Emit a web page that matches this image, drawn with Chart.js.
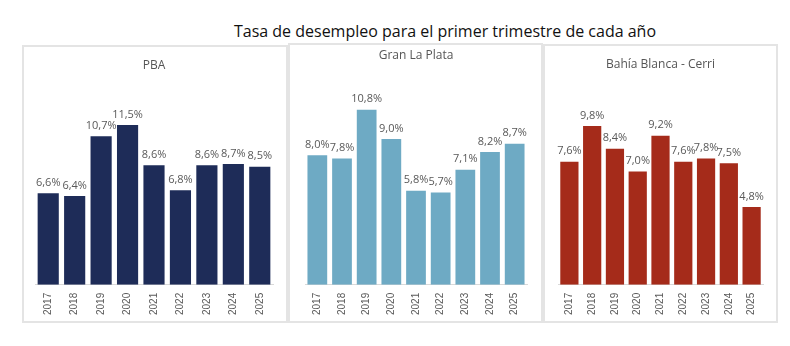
<!DOCTYPE html>
<html>
<head>
<meta charset="utf-8">
<script src="https://cdn.jsdelivr.net/npm/chart.js@4"></script>
<style>
  body { margin: 0; background: #fff; width: 790px; height: 346px; position: relative; overflow: hidden; }
  #titulo {
    position: absolute; left: 230px; top: 20px; width: 430px; text-align: center;
    font-family: "Open Sans", sans-serif; font-size: 16px; color: #111; white-space: nowrap;
  }
  .panel { position: absolute; box-sizing: border-box; border: 2px solid #e4e4e4; background: #fff; }
  .panel canvas { position: absolute; left: 0; top: 0; }
</style>
</head>
<body>
<div id="titulo">Tasa de desempleo para el primer trimestre de cada año</div>
<div class="panel" style="left:22px;top:45px;width:266px;height:278px"><canvas id="js--pba" width="262" height="276"></canvas></div>
<div class="panel" style="left:288px;top:43px;width:255px;height:280px"><canvas id="js--glp" width="251" height="278"></canvas></div>
<div class="panel" style="left:543px;top:44px;width:235px;height:279px"><canvas id="js--bb" width="231" height="277"></canvas></div>
<script>
const years = ["2017", "2018", "2019", "2020", "2021", "2022", "2023", "2024", "2025"];
const pba = [6.6, 6.4, 10.7, 11.5, 8.6, 6.8, 8.6, 8.7, 8.5];
const granLaPlata = [8.0, 7.8, 10.8, 9.0, 5.8, 5.7, 7.1, 8.2, 8.7];
const bahiaBlanca = [7.6, 9.8, 8.4, 7.0, 9.2, 7.6, 7.8, 7.5, 4.8];

// etiquetas de valor arriba de cada barra, con coma decimal
const valueLabels = {
  id: "valueLabels",
  afterDatasetsDraw(chart) {
    const ctx = chart.ctx;
    const values = chart.data.datasets[0].data;
    ctx.save();
    ctx.font = "11px 'Open Sans', sans-serif";
    ctx.fillStyle = "#595959";
    ctx.textAlign = "center";
    ctx.textBaseline = "bottom";
    chart.getDatasetMeta(0).data.forEach(function (bar, i) {
      ctx.fillText(values[i].toFixed(1).replace(".", ",") + "%", bar.x, bar.y - 5);
    });
    ctx.restore();
  }
};

function makeChart(id, title, values, color, yMax, titlePad, pad) {
  return new Chart(document.getElementById(id), {
    type: "bar",
    data: {
      labels: years,
      datasets: [{
        data: values,
        backgroundColor: color,
        barPercentage: 0.8,
        categoryPercentage: 1.0
      }]
    },
    options: {
      responsive: false,
      animation: false,
      layout: { padding: pad },
      plugins: {
        legend: { display: false },
        tooltip: { enabled: false },
        title: {
          display: true,
          text: title,
          color: "#555",
          font: { family: "'Open Sans', sans-serif", size: 12, weight: "normal" },
          padding: titlePad
        }
      },
      scales: {
        y: { display: false, min: 0, max: yMax },
        x: {
          grid: { display: false, drawTicks: false },
          border: { color: "#d9d9d9" },
          ticks: {
            color: "#595959",
            font: { family: "'Liberation Sans', Arial, sans-serif", size: 10 },
            minRotation: 90,
            maxRotation: 90,
            padding: 8
          }
        }
      }
    },
    plugins: [valueLabels]
  });
}

makeChart("js--pba", "PBA", pba, "#1e2c58", 14, { top: 11, bottom: 18 }, { left: 11, right: 13, bottom: 0 });
makeChart("js--glp", "Gran La Plata", granLaPlata, "#6eaac4", 12, { top: 3, bottom: 28 }, { left: 15, right: 14, bottom: 0 });
makeChart("js--bb", "Bahía Blanca - Cerri", bahiaBlanca, "#a52b1a", 12, { top: 11, bottom: 19 }, { left: 13, right: 13, bottom: 0 });
</script>
</body>
</html>
